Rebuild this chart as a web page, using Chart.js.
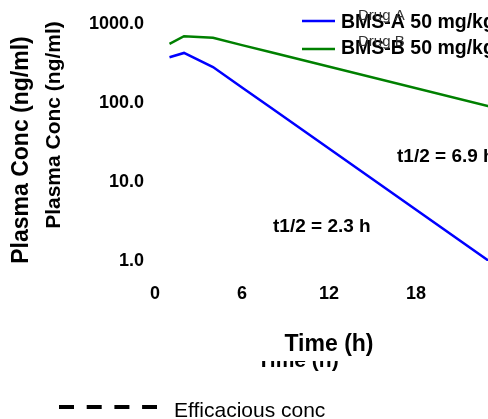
<!DOCTYPE html>
<html>
<head>
<meta charset="utf-8">
<script src="https://cdn.jsdelivr.net/npm/chart.js@4"></script>
<style>
  html, body { margin: 0; padding: 0; background: #fff; overflow: hidden; }
  canvas { display: block; }
</style>
</head>
<body>
<canvas id="pkChart" width="530" height="419"></canvas>
<script>
const timeH = [1, 2, 4, 6, 8, 24];
const drugA = [380, 430, 285, 157, 87, 0.75];
const drugB = [560, 700, 670, 540, 440, 82];
const xTicks = [0, 6, 12, 18];
const yTicks = [1, 10, 100, 1000];
const FONT = "'Liberation Sans', Arial, sans-serif";

// titles, legends and half-life notes are drawn straight on the canvas
const overlayText = {
    id: 'overlayText',
    afterDraw(chart) {
        const ctx = chart.ctx;
        const ds = chart.data.datasets;
        ctx.save();
        ctx.fillStyle = '#000';
        ctx.textBaseline = 'alphabetic';

        // two stacked y titles
        ctx.textAlign = 'center';
        ctx.save();
        ctx.translate(28, 150);
        ctx.rotate(-Math.PI / 2);
        ctx.font = 'bold 23px ' + FONT;
        ctx.fillText('Plasma Conc (ng/ml)', 0, 0);
        ctx.restore();
        ctx.save();
        ctx.translate(60, 125);
        ctx.rotate(-Math.PI / 2);
        ctx.font = 'bold 21px ' + FONT;
        ctx.fillText('Plasma Conc (ng/ml)', 0, 0);
        ctx.restore();

        // x titles, the lower one mostly hidden
        ctx.font = 'bold 21px ' + FONT;
        ctx.fillText('Time (h)', 298, 367);
        ctx.fillStyle = '#fff';
        ctx.fillRect(240, 325, 180, 36);
        ctx.fillStyle = '#000';
        ctx.font = 'bold 23px ' + FONT;
        ctx.fillText('Time (h)', 329, 351);

        // top legend
        ctx.textAlign = 'left';
        ctx.lineWidth = 2.5;
        [[21, 28, 20], [49, 54, 46]].forEach(([ly, ty, gy], i) => {
            ctx.strokeStyle = ds[i].borderColor;
            ctx.beginPath();
            ctx.moveTo(302, ly);
            ctx.lineTo(335, ly);
            ctx.stroke();
            ctx.fillStyle = '#000';
            ctx.font = 'bold 19.5px ' + FONT;
            ctx.fillText(ds[i].label, 341, ty);
            ctx.fillStyle = '#333';
            ctx.font = '15px ' + FONT;
            ctx.fillText(i === 0 ? 'Drug A' : 'Drug B', 358, gy);
        });

        // half-lives
        ctx.fillStyle = '#000';
        ctx.font = 'bold 19px ' + FONT;
        ctx.fillText('t1/2 = 6.9 h', 397, 162);
        ctx.fillText('t1/2 = 2.3 h', 273, 232);

        // bottom legend
        ctx.strokeStyle = '#000';
        ctx.lineWidth = 4;
        ctx.setLineDash([15, 12.7]);
        ctx.beginPath();
        ctx.moveTo(59, 407);
        ctx.lineTo(157, 407);
        ctx.stroke();
        ctx.setLineDash([]);
        ctx.font = '21px ' + FONT;
        ctx.fillText('Efficacious conc', 174, 417);

        ctx.restore();
    }
};

const tickFont = { family: FONT, size: 18, weight: 'bold' };

new Chart(document.getElementById('pkChart'), {
    type: 'line',
    data: {
        datasets: [
            {
                label: 'BMS-A 50 mg/kg',
                data: timeH.map((t, i) => ({ x: t, y: drugA[i] })),
                borderColor: '#0000ff',
                borderWidth: 2.5,
                pointRadius: 0,
                fill: false,
                tension: 0
            },
            {
                label: 'BMS-B 50 mg/kg',
                data: timeH.map((t, i) => ({ x: t, y: drugB[i] })),
                borderColor: '#008000',
                borderWidth: 2.5,
                pointRadius: 0,
                fill: false,
                tension: 0
            }
        ]
    },
    options: {
        responsive: false,
        animation: false,
        layout: { padding: { top: 24, right: 27, left: 0, bottom: 0 } },
        plugins: {
            legend: { display: false },
            tooltip: { enabled: false }
        },
        scales: {
            x: {
                type: 'linear',
                min: 0,
                max: 24,
                grid: { display: false, drawTicks: false },
                border: { display: false },
                afterBuildTicks: s => { s.ticks = xTicks.map(v => ({ value: v })); },
                afterFit: s => { s.height = 158; },
                ticks: { padding: 22, maxRotation: 0, autoSkip: false, color: '#000', font: tickFont }
            },
            y: {
                type: 'logarithmic',
                min: 1,
                max: 1000,
                grid: { display: false, drawTicks: false },
                border: { display: false },
                afterBuildTicks: s => { s.ticks = yTicks.map(v => ({ value: v })); },
                afterFit: s => { s.width = 155; },
                ticks: {
                    padding: 11,
                    autoSkip: false,
                    color: '#000',
                    font: tickFont,
                    callback: v => Number(v).toFixed(1)
                }
            }
        }
    },
    plugins: [overlayText]
});
</script>
</body>
</html>
